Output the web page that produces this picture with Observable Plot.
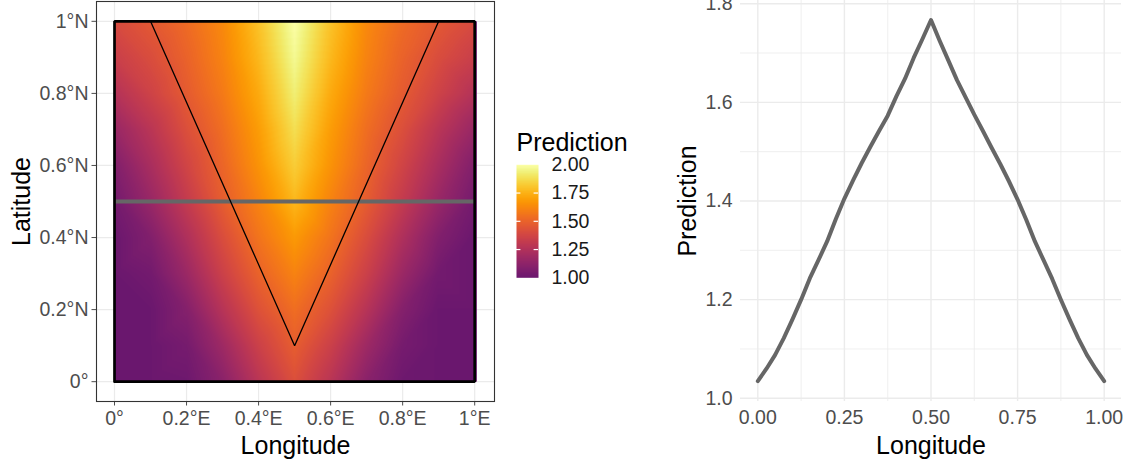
<!DOCTYPE html>
<html><head><meta charset="utf-8">
<script src="https://cdn.jsdelivr.net/npm/d3@7"></script>
<script src="https://cdn.jsdelivr.net/npm/@observablehq/plot@0.6"></script>
<style>
body{margin:0;background:#fff;}
#wrap{position:relative;width:1140px;height:466px;overflow:hidden;background:#fff;font-family:"Liberation Sans",Arial,sans-serif;}
#wrap > div{position:absolute;}
svg{display:block;}
</style></head><body>
<div id="wrap"><div id="map" style="left:0;top:0"></div><div id="leg" style="left:500px;top:125px"></div><div id="line" style="left:660px;top:0"></div></div>
<script>
// ---- data ----
const gridLon = [0, 0.1, 0.2, 0.3, 0.4, 0.5, 0.6, 0.7, 0.8, 0.9, 1];
const gridLat = [0, 0.1, 0.2, 0.3, 0.4, 0.5, 0.6, 0.7, 0.8, 0.9, 1];
// rows: latitude 0 -> 1; columns: longitude 0 -> 1
const predGrid = [
  [1.00, 1.00, 1.01, 1.11, 1.28, 1.42, 1.28, 1.11, 1.01, 1.00, 1.00],
  [1.00, 1.00, 1.04, 1.18, 1.35, 1.48, 1.35, 1.18, 1.04, 1.00, 1.00],
  [1.00, 1.00, 1.09, 1.27, 1.43, 1.54, 1.43, 1.27, 1.09, 1.00, 1.00],
  [1.00, 1.03, 1.17, 1.35, 1.50, 1.61, 1.50, 1.35, 1.17, 1.03, 1.00],
  [1.00, 1.08, 1.24, 1.41, 1.56, 1.68, 1.56, 1.41, 1.24, 1.08, 1.00],
  [1.035, 1.16, 1.318, 1.477, 1.612, 1.767, 1.610, 1.475, 1.318, 1.16, 1.035],
  [1.08, 1.22, 1.37, 1.51, 1.66, 1.83, 1.66, 1.51, 1.37, 1.22, 1.08],
  [1.16, 1.28, 1.42, 1.54, 1.69, 1.88, 1.69, 1.54, 1.42, 1.28, 1.16],
  [1.26, 1.36, 1.47, 1.58, 1.73, 1.93, 1.73, 1.58, 1.47, 1.36, 1.26],
  [1.34, 1.41, 1.50, 1.61, 1.77, 1.97, 1.77, 1.61, 1.50, 1.41, 1.34],
  [1.40, 1.46, 1.53, 1.63, 1.80, 2.00, 1.80, 1.63, 1.53, 1.46, 1.40]
];
const boundaryLon = [0, 1, 1, 0, 0];
const boundaryLat = [0, 0, 1, 1, 0];
const triangleLon = [0.1, 0.9, 0.5, 0.1];
const triangleLat = [1, 1, 0.1, 1];
const transectLat = 0.5;
const transectLon = [0, 0.025, 0.05, 0.075, 0.1, 0.125, 0.15, 0.175, 0.2, 0.225, 0.25, 0.275, 0.3, 0.325, 0.35, 0.375, 0.4, 0.425, 0.45, 0.475, 0.5,
  0.525, 0.55, 0.575, 0.6, 0.625, 0.65, 0.675, 0.7, 0.725, 0.75, 0.775, 0.8, 0.825, 0.85, 0.875, 0.9, 0.925, 0.95, 0.975, 1];
const transectPred = [1.035, 1.060, 1.088, 1.122, 1.160, 1.200, 1.243, 1.280, 1.318, 1.363, 1.405, 1.442, 1.477, 1.510, 1.542, 1.573, 1.612, 1.648, 1.690, 1.728, 1.767,
  1.725, 1.685, 1.645, 1.610, 1.575, 1.542, 1.508, 1.475, 1.440, 1.403, 1.362, 1.318, 1.280, 1.242, 1.200, 1.160, 1.122, 1.088, 1.060, 1.035];
const mapTicks = [0, 0.2, 0.4, 0.6, 0.8, 1];
const legendTicks = [1, 1.25, 1.5, 1.75, 2];
const lineXMajor = [0, 0.25, 0.5, 0.75, 1];
const lineXMinor = [0.125, 0.375, 0.625, 0.875];
const lineYMajor = [1.0, 1.2, 1.4, 1.6, 1.8];
const lineYMinor = [1.1, 1.3, 1.5, 1.7];

// ---- derived tables ----
const pts = [];
predGrid.forEach((row, i) => row.forEach((v, j) => pts.push({lon: gridLon[j], lat: gridLat[i], value: v})));
const boundary = boundaryLon.map((d, i) => ({lon: d, lat: boundaryLat[i]}));
const triangle = triangleLon.map((d, i) => ({lon: d, lat: triangleLat[i]}));
const transectMap = [{lon: 0, lat: transectLat}, {lon: 1, lat: transectLat}];
const transect = transectLon.map((d, i) => ({lon: d, pred: transectPred[i]}));

const FONT = '"Liberation Sans", Arial, sans-serif';
const colorScale = {type: "linear", domain: [1, 2], clamp: true, interpolate: t => d3.interpolateInferno(0.3 + 0.7 * t)};
const degFmt = h => d => d === 0 ? "0°" : `${d3.format("~g")(d)}°${h}`;
const title = (txt, opts) => Plot.text([txt], {text: d => d, fontSize: 25, fill: "black", lineAnchor: "middle", textAnchor: "middle", ...opts});

const map = Plot.plot({
  width: 500, height: 466, marginLeft: 96, marginRight: 6, marginTop: 1, marginBottom: 65,
  style: {fontFamily: FONT, fontSize: "19.5px", color: "#4D4D4D", background: "white", overflow: "visible"},
  x: {domain: [-0.05, 1.055], ticks: mapTicks, tickFormat: degFmt("E"), tickSize: 4.5, tickPadding: 5.5, label: null},
  y: {domain: [-0.055, 1.055], ticks: mapTicks, tickFormat: degFmt("N"), tickSize: 4.5, tickPadding: 3.5, label: null},
  color: colorScale,
  marks: [
    Plot.ruleX(mapTicks, {x: d => d, stroke: "#EBEBEB", strokeWidth: 1.2}),
    Plot.ruleY(mapTicks, {y: d => d, stroke: "#EBEBEB", strokeWidth: 1.2}),
    Plot.raster(pts, {x: "lon", y: "lat", fill: "value", x1: 0, x2: 1.006, y1: 0, y2: 1, interpolate: "barycentric"}),
    Plot.line(transectMap, {x: "lon", y: "lat", stroke: "#666666", strokeWidth: 4, strokeLinecap: "butt"}),
    Plot.line(triangle, {x: "lon", y: "lat", stroke: "black", strokeWidth: 1.3, strokeLinejoin: "miter"}),
    Plot.line(boundary, {x: "lon", y: "lat", stroke: "black", strokeWidth: 2.7, strokeLinejoin: "miter"}),
    Plot.frame({stroke: "#333333", strokeWidth: 1.1}),
    title("Longitude", {frameAnchor: "bottom", dy: 44}),
    title("Latitude", {frameAnchor: "left", dx: -75, rotate: -90})
  ]
});
document.getElementById("map").appendChild(map);

const leg = Plot.plot({
  width: 140, height: 170, marginLeft: 16, marginRight: 102, marginTop: 39.3, marginBottom: 17.7,
  style: {fontFamily: FONT, fontSize: "19.5px", color: "#1A1A1A", background: "white", overflow: "visible"},
  x: {domain: [0, 1], axis: null},
  y: {domain: [1, 2], axis: "right", ticks: legendTicks, tickFormat: d3.format(".2f"), tickSize: 0, tickPadding: 13, label: null},
  color: colorScale,
  marks: [
    Plot.raster({fill: (x, y) => y, x1: 0, x2: 1, y1: 1, y2: 2}),
    Plot.ruleY(legendTicks.slice(1, -1), {y: d => d, x1: 0, x2: 0.2, stroke: "white", strokeWidth: 1.2}),
    Plot.ruleY(legendTicks.slice(1, -1), {y: d => d, x1: 0.8, x2: 1, stroke: "white", strokeWidth: 1.2}),
    title("Prediction", {frameAnchor: "top-left", dy: -22.3, textAnchor: "start"})
  ]
});
document.getElementById("leg").appendChild(leg);

const line = Plot.plot({
  width: 480, height: 466, marginLeft: 80, marginRight: 19, marginTop: 0, marginBottom: 65,
  style: {fontFamily: FONT, fontSize: "19.5px", color: "#4D4D4D", background: "white", overflow: "visible"},
  x: {domain: [-0.05, 1.05], ticks: lineXMajor, tickFormat: d3.format(".2f"), tickSize: 0, tickPadding: 9, label: null},
  y: {domain: [0.9935, 1.8065], ticks: lineYMajor, tickFormat: d3.format(".1f"), tickSize: 0, tickPadding: 8, label: null},
  marks: [
    Plot.ruleX(lineXMinor, {x: d => d, stroke: "#EBEBEB", strokeWidth: 0.8}),
    Plot.ruleY(lineYMinor, {y: d => d, stroke: "#EBEBEB", strokeWidth: 0.8}),
    Plot.ruleX(lineXMajor, {x: d => d, stroke: "#EBEBEB", strokeWidth: 1.4}),
    Plot.ruleY(lineYMajor, {y: d => d, stroke: "#EBEBEB", strokeWidth: 1.4}),
    Plot.line(transect, {x: "lon", y: "pred", stroke: "#666666", strokeWidth: 4}),
    title("Longitude", {frameAnchor: "bottom", dy: 44}),
    title("Prediction", {frameAnchor: "left", dx: -53, rotate: -90})
  ]
});
document.getElementById("line").appendChild(line);
</script>
</body></html>
